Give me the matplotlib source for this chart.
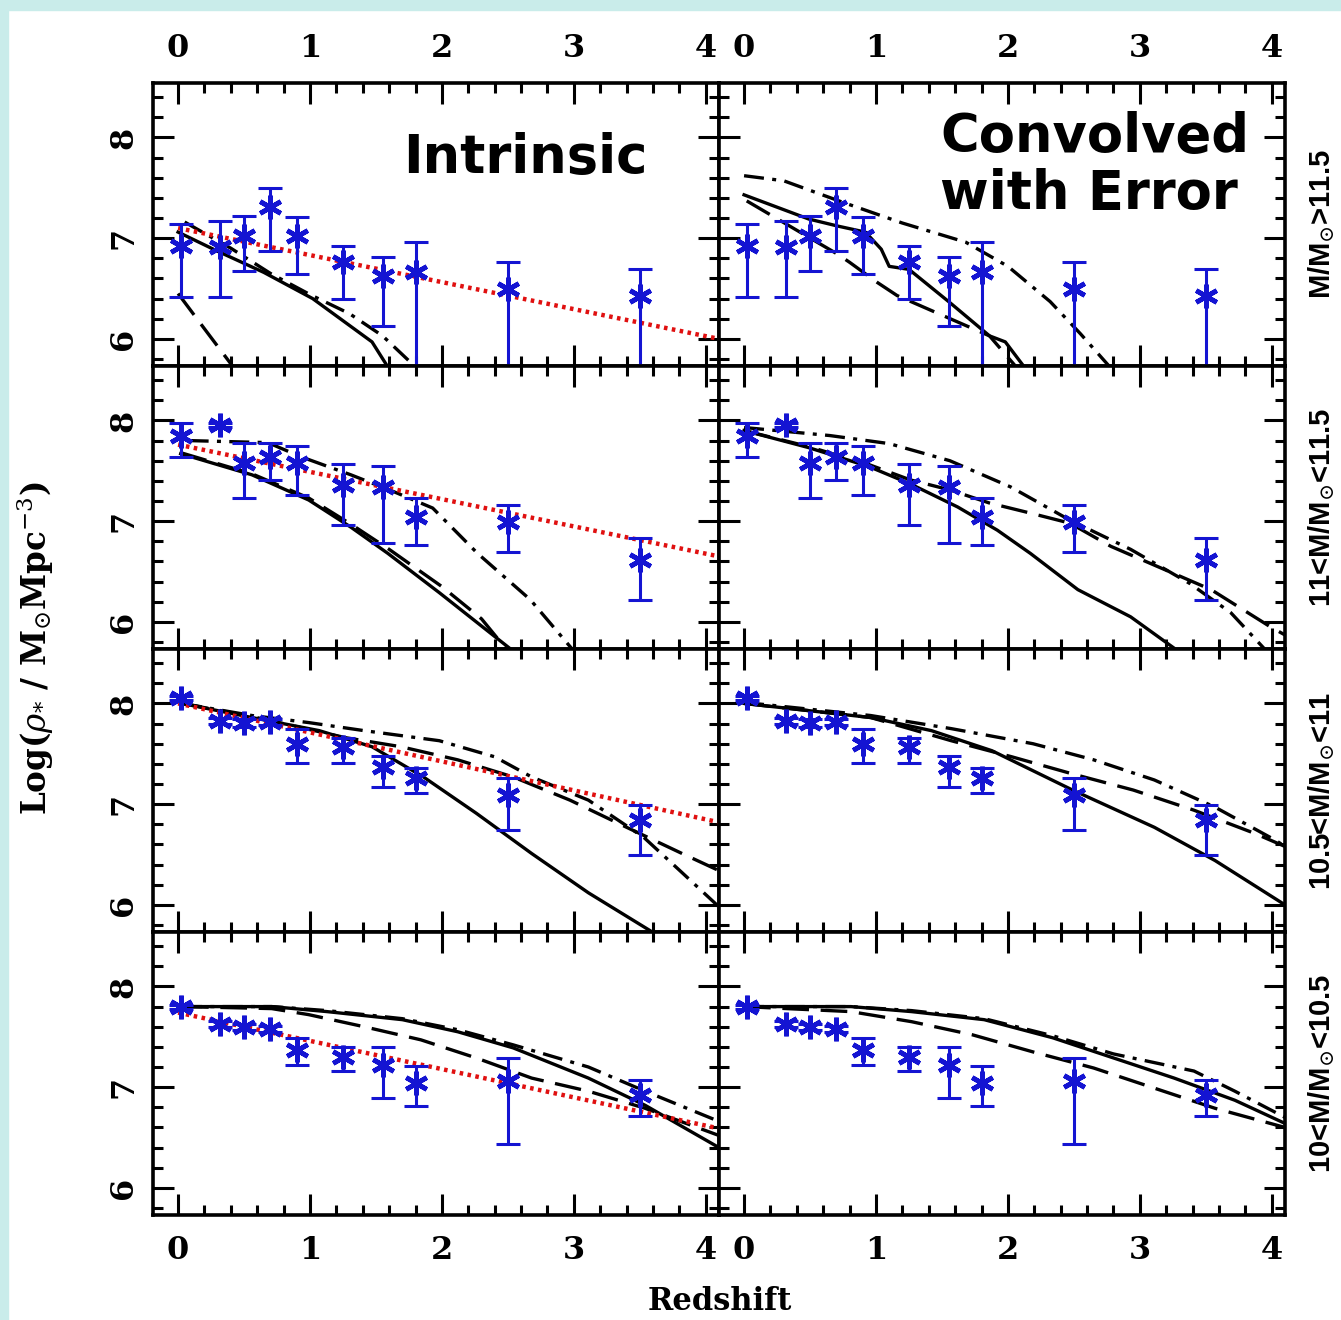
import numpy as np
import matplotlib
matplotlib.use("Agg")
import matplotlib.pyplot as plt
from matplotlib.patches import Rectangle
from matplotlib.ticker import MultipleLocator

# --- data: redshift bins and stellar mass densities ---
z = [0.02, 0.32, 0.5, 0.7, 0.9, 1.25, 1.55, 1.8, 2.5, 3.5]

rho_115 = [6.92, 6.91, 7.02, 7.31, 7.02, 6.76, 6.62, 6.66, 6.50, 6.43]
hi_115 = [7.14, 7.17, 7.22, 7.50, 7.21, 6.92, 6.81, 6.96, 6.76, 6.69]
lo_115 = [6.42, 6.42, 6.67, 6.87, 6.64, 6.40, 6.13, 5.50, 5.50, 5.50]

rho_11 = [7.85, 7.95, 7.58, 7.64, 7.58, 7.36, 7.34, 7.04, 6.99, 6.61]
hi_11 = [7.97, 7.97, 7.78, 7.78, 7.75, 7.57, 7.55, 7.23, 7.16, 6.83]
lo_11 = [7.64, 7.93, 7.23, 7.41, 7.26, 6.96, 6.78, 6.76, 6.69, 6.22]

rho_105 = [8.05, 7.83, 7.81, 7.82, 7.60, 7.57, 7.37, 7.26, 7.09, 6.84]
hi_105 = [8.07, 7.86, 7.85, 7.85, 7.75, 7.66, 7.48, 7.36, 7.26, 6.99]
lo_105 = [8.03, 7.80, 7.77, 7.79, 7.41, 7.41, 7.17, 7.11, 6.74, 6.50]

rho_10 = [7.80, 7.63, 7.60, 7.58, 7.37, 7.30, 7.22, 7.04, 7.06, 6.92]
hi_10 = [7.82, 7.66, 7.63, 7.61, 7.49, 7.40, 7.40, 7.21, 7.29, 7.07]
lo_10 = [7.78, 7.60, 7.57, 7.55, 7.22, 7.16, 6.89, 6.81, 6.44, 6.71]

# red dotted linear fits (left column only)
fit_z = [0.0, 4.1]
fit_115 = [7.10, 6.00]
fit_11 = [7.76, 6.65]
fit_105 = [8.00, 6.82]
fit_10 = [7.74, 6.59]

# --- model curves, intrinsic ---
int0_solid_z = [0.0, 0.3, 0.65, 1.02, 1.47, 1.6]
int0_solid = [7.06, 6.87, 6.66, 6.40, 5.97, 5.70]
int0_dashed_z = [0.0, 0.2, 0.43]
int0_dashed = [6.45, 6.10, 5.70]
int0_dashdot_z = [0.05, 0.4, 0.7, 1.0, 1.3, 1.55, 1.8]
int0_dashdot = [7.16, 6.90, 6.65, 6.44, 6.25, 6.03, 5.72]

int1_solid_z = [0.02, 0.56, 0.99, 1.31, 1.59, 1.98, 2.54]
int1_solid = [7.67, 7.46, 7.21, 6.94, 6.68, 6.29, 5.71]
int1_dashed_z = [0.02, 0.56, 0.99, 1.31, 1.6, 2.0, 2.3, 2.5]
int1_dashed = [7.68, 7.47, 7.23, 6.97, 6.72, 6.35, 6.03, 5.71]
int1_dashdot_z = [0.08, 0.68, 0.93, 1.31, 1.64, 1.93, 2.27, 2.67, 3.0]
int1_dashdot = [7.80, 7.78, 7.64, 7.46, 7.29, 7.13, 6.68, 6.22, 5.71]

int2_solid_z = [0.03, 0.56, 1.07, 1.47, 1.86, 2.26, 2.68, 3.11, 3.62]
int2_solid = [8.0, 7.86, 7.73, 7.57, 7.27, 6.91, 6.51, 6.12, 5.71]
int2_dashed_z = [0.03, 0.56, 1.0, 1.27, 1.69, 2.12, 2.54, 2.97, 3.4, 3.82, 4.1]
int2_dashed = [8.0, 7.87, 7.74, 7.66, 7.57, 7.44, 7.27, 7.04, 6.77, 6.51, 6.34]
int2_dashdot_z = [0.03, 0.56, 0.99, 1.41, 1.98, 2.4, 2.68, 3.11, 3.53, 3.82, 4.1]
int2_dashdot = [8.0, 7.88, 7.81, 7.73, 7.63, 7.47, 7.27, 7.04, 6.67, 6.32, 5.98]

int3_solid_z = [0.03, 0.71, 1.13, 1.7, 2.12, 2.54, 3.11, 3.54, 4.1]
int3_solid = [7.8, 7.8, 7.75, 7.67, 7.55, 7.39, 7.09, 6.82, 6.40]
int3_dashed_z = [0.03, 0.71, 0.99, 1.41, 1.84, 2.26, 2.68, 3.11, 3.54, 4.1]
int3_dashed = [7.8, 7.78, 7.72, 7.60, 7.47, 7.29, 7.09, 6.96, 6.79, 6.52]
int3_dashdot_z = [0.03, 0.71, 1.13, 1.7, 2.12, 2.54, 3.11, 3.54, 4.1]
int3_dashdot = [7.8, 7.8, 7.76, 7.68, 7.57, 7.42, 7.20, 6.96, 6.66]

# --- model curves, convolved with error ---
con0_solid_z = [0.0, 0.49, 0.71, 0.92, 1.04, 1.1, 1.25, 1.56, 1.86, 1.98, 2.13]
con0_solid = [7.43, 7.19, 7.12, 7.06, 6.89, 6.72, 6.69, 6.36, 6.03, 5.97, 5.71]
con0_dashed_z = [0.02, 0.71, 0.8, 1.01, 1.16, 1.44, 1.86, 2.07]
con0_dashed = [7.37, 6.84, 6.76, 6.56, 6.43, 6.27, 6.03, 5.71]
con0_dashdot_z = [0.0, 0.3, 0.74, 1.2, 1.68, 2.0, 2.32, 2.55, 2.78]
con0_dashdot = [7.62, 7.57, 7.36, 7.15, 6.96, 6.72, 6.37, 6.05, 5.71]

con1_solid_z = [0.0, 0.49, 0.95, 1.26, 1.62, 1.92, 2.17, 2.53, 2.93, 3.29]
con1_solid = [7.9, 7.73, 7.54, 7.37, 7.14, 6.91, 6.68, 6.32, 6.05, 5.71]
con1_dashed_z = [0.0, 0.49, 0.95, 1.26, 1.56, 1.86, 2.17, 2.47, 2.78, 3.08, 3.54, 3.99, 4.1]
con1_dashed = [7.9, 7.74, 7.56, 7.41, 7.31, 7.18, 7.08, 6.98, 6.75, 6.58, 6.32, 5.95, 5.87]
con1_dashdot_z = [0.0, 0.65, 1.1, 1.56, 2.02, 2.47, 2.93, 3.38, 3.69, 3.96]
con1_dashdot = [7.93, 7.85, 7.77, 7.60, 7.34, 7.01, 6.72, 6.38, 6.09, 5.71]

con2_solid_z = [0.0, 0.96, 1.42, 1.88, 2.49, 3.11, 3.57, 4.1]
con2_solid = [8.0, 7.86, 7.73, 7.53, 7.14, 6.77, 6.44, 6.0]
con2_dashed_z = [0.0, 0.96, 1.57, 2.03, 2.49, 2.95, 3.41, 3.87, 4.1]
con2_dashed = [8.0, 7.86, 7.63, 7.47, 7.30, 7.14, 6.94, 6.71, 6.58]
con2_dashdot_z = [0.0, 0.96, 1.57, 2.19, 2.65, 3.11, 3.57, 4.03, 4.1]
con2_dashdot = [8.01, 7.88, 7.75, 7.60, 7.44, 7.24, 6.97, 6.64, 6.58]

con3_solid_z = [0.0, 0.81, 1.27, 1.82, 2.34, 2.8, 3.26, 3.72, 4.1]
con3_solid = [7.8, 7.8, 7.75, 7.67, 7.49, 7.29, 7.09, 6.87, 6.64]
con3_dashed_z = [0.0, 0.81, 1.27, 1.73, 2.19, 2.65, 3.11, 3.57, 4.1]
con3_dashed = [7.8, 7.75, 7.65, 7.52, 7.35, 7.19, 6.99, 6.79, 6.60]
con3_dashdot_z = [0.0, 0.81, 1.27, 1.82, 2.34, 2.8, 3.41, 3.72, 4.1]
con3_dashdot = [7.8, 7.8, 7.76, 7.68, 7.51, 7.33, 7.16, 6.96, 6.70]

bin_labels = [r"M/M$_{\odot}$>11.5", r"11<M/M$_{\odot}$<11.5",
              r"10.5<M/M$_{\odot}$<11", r"10<M/M$_{\odot}$<10.5"]

rows = [
    (rho_115, hi_115, lo_115, fit_115,
     (int0_solid_z, int0_solid), (int0_dashed_z, int0_dashed), (int0_dashdot_z, int0_dashdot),
     (con0_solid_z, con0_solid), (con0_dashed_z, con0_dashed), (con0_dashdot_z, con0_dashdot)),
    (rho_11, hi_11, lo_11, fit_11,
     (int1_solid_z, int1_solid), (int1_dashed_z, int1_dashed), (int1_dashdot_z, int1_dashdot),
     (con1_solid_z, con1_solid), (con1_dashed_z, con1_dashed), (con1_dashdot_z, con1_dashdot)),
    (rho_105, hi_105, lo_105, fit_105,
     (int2_solid_z, int2_solid), (int2_dashed_z, int2_dashed), (int2_dashdot_z, int2_dashdot),
     (con2_solid_z, con2_solid), (con2_dashed_z, con2_dashed), (con2_dashdot_z, con2_dashdot)),
    (rho_10, hi_10, lo_10, fit_10,
     (int3_solid_z, int3_solid), (int3_dashed_z, int3_dashed), (int3_dashdot_z, int3_dashdot),
     (con3_solid_z, con3_solid), (con3_dashed_z, con3_dashed), (con3_dashdot_z, con3_dashdot)),
]

plt.rcParams["mathtext.fontset"] = "dejavuserif"

fig = plt.figure(figsize=(13.41, 13.20), dpi=100)
fig.patch.set_facecolor("white")
# light cyan strip along top and left edges of the scanned figure
fig.patches.append(Rectangle((0, 1 - 10 / 1320), 1, 10 / 1320, transform=fig.transFigure,
                             color="#c9ecea", zorder=0))
fig.patches.append(Rectangle((0, 0), 8 / 1341, 1, transform=fig.transFigure,
                             color="#c9ecea", zorder=0))

x_left = [153 / 1341, 719 / 1341]
w = 566 / 1341
h = 283 / 1320
blue = "#1414d2"
tick_font = dict(family="DejaVu Serif", weight="bold", size=23)


def draw_line(ax, zz, rr, style):
    if style == "solid":
        ax.plot(zz, rr, color="black", lw=2.4, zorder=2)
    elif style == "dashed":
        ax.plot(zz, rr, color="black", lw=2.4, dashes=(8, 3.5), zorder=2)
    else:
        ax.plot(zz, rr, color="black", lw=2.4, dashes=(6, 2.5, 1.2, 2.5), zorder=2)


for i, row in enumerate(rows):
    rho, hi, lo, fit = row[:4]
    curves = [row[4:7], row[7:10]]
    for j in range(2):
        ax = fig.add_axes([x_left[j], 0.0795 + (3 - i) * h, w, h])
        ax.set_xlim(-0.19, 4.1)
        ax.set_ylim(5.73, 8.54)

        for (zz, rr), st in zip(curves[j], ["solid", "dashed", "dashdot"]):
            draw_line(ax, zz, rr, st)

        if j == 0:
            ax.plot(fit_z, fit, color="#e01010", lw=3.2, ls=(0, (0.8, 1.0)), zorder=3)

        yerr = [np.array(rho) - np.array(lo), np.array(hi) - np.array(rho)]
        ax.errorbar(z, rho, yerr=yerr, fmt="none", ecolor=blue, elinewidth=2.2,
                    capsize=8.5, capthick=2.2, zorder=4)
        ax.plot(z, rho, ls="none", marker=(6, 2, 0), ms=17, mew=3.4,
                color=blue, zorder=5)

        ax.xaxis.set_major_locator(MultipleLocator(1))
        ax.xaxis.set_minor_locator(MultipleLocator(0.2))
        ax.yaxis.set_major_locator(MultipleLocator(1))
        ax.yaxis.set_minor_locator(MultipleLocator(0.2))
        ax.tick_params(which="both", direction="in", top=True, right=True,
                       width=2.2, color="black")
        ax.tick_params(which="major", length=15)
        ax.tick_params(which="minor", length=7.5)
        ax.tick_params(axis="x", labeltop=(i == 0), labelbottom=(i == 3), pad=14)
        ax.tick_params(axis="y", labelleft=(j == 0), labelrotation=90, pad=10)
        for lab in ax.get_xticklabels() + ax.get_yticklabels():
            lab.set_fontfamily(tick_font["family"])
            lab.set_fontweight(tick_font["weight"])
            lab.set_fontsize(tick_font["size"])
        for lab in ax.get_yticklabels():
            lab.set_verticalalignment("center")
        for sp in ax.spines.values():
            sp.set_linewidth(2.6)

        if i == 0 and j == 0:
            ax.text(0.4417, 0.736, "Intrinsic", transform=ax.transAxes,
                    fontsize=38, fontweight="bold", family="DejaVu Sans",
                    ha="left", va="center")
        if i == 0 and j == 1:
            ax.text(0.3905, 0.708, "Convolved\nwith Error", transform=ax.transAxes,
                    fontsize=38, fontweight="bold", family="DejaVu Sans",
                    ha="left", va="center", linespacing=1.12)
        if j == 1:
            ax.text(1.065, 0.5, bin_labels[i], transform=ax.transAxes,
                    rotation=90, ha="center", va="center", fontsize=21,
                    fontweight="bold", family="Liberation Sans")

fig.text(720 / 1341, 1 - 1302 / 1320, "Redshift", ha="center", va="center",
         fontsize=22, fontweight="bold", family="DejaVu Serif")
fig.text(35 / 1341, 1 - 648 / 1320, r"Log($\rho_{*}$ / M$_{\odot}$Mpc$^{-3}$)",
         rotation=90, ha="center", va="center", fontsize=23.5,
         fontweight="bold", family="DejaVu Serif")

fig.savefig("out.png", dpi=100)
